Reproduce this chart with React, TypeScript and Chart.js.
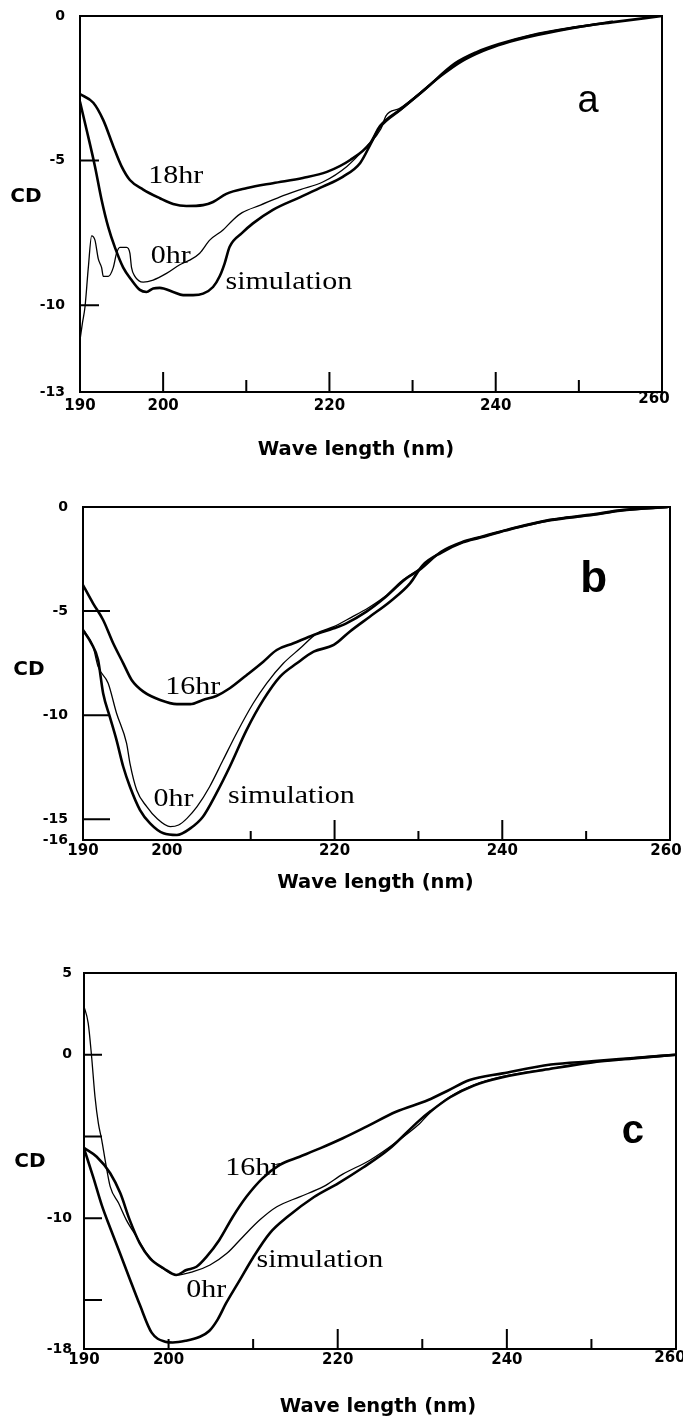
import React, { useEffect, useRef } from "react";
import { Chart, registerables } from "chart.js";

Chart.register(...registerables);

const SANS = "'DejaVu Sans', 'Liberation Sans', Arial, sans-serif";
const LETTER_SANS = "'Liberation Sans', Arial, sans-serif";
const SERIF = "'Liberation Serif', 'Times New Roman', serif";

// ---------- shared ----------
const xTickValues = [190, 200, 220, 240, 260];
const xAxisTitle = "Wave length (nm)";
const yAxisTitle = "CD";
const curveNames = ["18hr", "0hr", "simulation"];
const curveNamesBC = ["16hr", "0hr", "simulation"];

// ---------- panel a ----------
const aYTicks = [0, -5, -10, -13];
const aYMarks = [-5, -10];
const aXMajor = [200, 220, 240];
const aXMinor = [210, 230, 250];

const aWave18 = [190, 191.6, 192.8, 194.0, 195.0, 196.0, 197.6, 199.6, 201.2, 202.8, 204.8, 206.0, 207.6, 210.1, 213.2, 216.8, 219.7, 222.5, 224.9, 226.1, 228.7, 231.4, 235.1, 237.7, 240.4, 244.1, 249.4, 253.9, 260];
const aCD18 = [-2.7, -3.0, -3.6, -4.5, -5.2, -5.67, -6.0, -6.3, -6.5, -6.57, -6.54, -6.43, -6.15, -5.95, -5.78, -5.6, -5.39, -4.98, -4.4, -3.8, -3.2, -2.56, -1.64, -1.25, -0.97, -0.68, -0.4, -0.22, 0];

const aWave0 = [190.05, 190.3, 190.6, 191.0, 191.4, 191.8, 192.2, 192.6, 192.8, 193.4, 194.0, 194.4, 194.8, 195.6, 196.0, 196.2, 196.6, 197.6, 198.8, 200.4, 202.0, 203.2, 204.4, 205.6, 207.2, 208.4, 209.5, 211.7, 214.0, 216.5, 219.2, 222.1, 224.5, 226.2, 226.8, 228.4, 230.5, 233.0, 235.5, 238.0, 240.5, 244.0, 249.0, 254.0];
const aCD0 = [-11.1, -10.6, -10.06, -8.7, -7.6, -7.75, -8.4, -8.7, -9.0, -9.0, -8.7, -8.2, -8.0, -8.0, -8.2, -8.7, -9.0, -9.2, -9.13, -8.9, -8.6, -8.44, -8.2, -7.75, -7.4, -7.05, -6.8, -6.54, -6.26, -6.0, -5.74, -5.2, -4.5, -3.9, -3.45, -3.2, -2.75, -2.15, -1.6, -1.25, -0.97, -0.68, -0.4, -0.22];

const aWaveSim = [190, 190.8, 191.8, 192.6, 193.4, 194.2, 195.2, 196.2, 197.2, 198.0, 198.8, 199.6, 201.2, 202.4, 203.6, 204.8, 206.0, 206.8, 207.4, 208.0, 209.5, 210.8, 213.2, 216.5, 219.2, 221.6, 223.7, 225.2, 226.1, 228.5, 231.0, 233.5, 236.0, 238.5, 241.0, 245.0, 250.0, 254.0];
const aCDSim = [-2.97, -3.94, -5.2, -6.36, -7.3, -8.0, -8.7, -9.13, -9.47, -9.54, -9.42, -9.4, -9.54, -9.65, -9.65, -9.6, -9.37, -9.0, -8.55, -7.98, -7.5, -7.17, -6.7, -6.26, -5.9, -5.56, -5.08, -4.29, -3.84, -3.25, -2.65, -2.05, -1.55, -1.2, -0.95, -0.66, -0.38, -0.2];

const aLabelWave = [198.2, 198.5, 207.5];
const aLabelCD = [-5.77, -8.54, -9.44];

// ---------- panel b ----------
const bYTicks = [0, -5, -10, -15, -16];
const bYMarks = [-5, -10, -15];
const bXMajor = [220, 240];
const bXMinor = [210, 230, 250];

const bWave16 = [190.0, 191.2, 192.4, 193.6, 194.8, 195.8, 197.2, 199.2, 201.2, 202.8, 204.3, 205.9, 207.5, 209.5, 211.5, 213.1, 215.1, 217.5, 219.9, 221.4, 223.8, 225.9, 228.5, 230.1, 232.7, 235.3, 237.3, 240.5, 245.7, 250.4, 254.5, 259.7];
const bCD16 = [-3.75, -4.63, -5.43, -6.55, -7.51, -8.31, -8.87, -9.27, -9.47, -9.47, -9.27, -9.08, -8.71, -8.08, -7.43, -6.87, -6.55, -6.15, -5.83, -5.59, -5.03, -4.39, -3.45, -3.03, -2.15, -1.67, -1.45, -1.1, -0.62, -0.38, -0.14, 0];

const bWave0 = [190.2, 191.2, 191.8, 193.0, 194.0, 195.2, 195.6, 196.4, 197.6, 198.8, 200.4, 201.4, 202.4, 203.6, 205.1, 206.7, 208.3, 210.3, 211.9, 213.9, 215.9, 217.9, 219.9, 222.0, 224.0, 226.0, 228.0, 230.0, 232.7, 235.3, 237.3, 240.5, 245.7, 250.4, 254.5, 259.7];
const bCD0 = [-5.99, -6.71, -7.67, -8.47, -9.91, -11.36, -12.32, -13.6, -14.4, -14.96, -15.36, -15.28, -14.96, -14.4, -13.44, -12.16, -10.88, -9.43, -8.47, -7.51, -6.79, -6.07, -5.75, -5.3, -4.85, -4.3, -3.55, -3.0, -2.15, -1.67, -1.45, -1.1, -0.62, -0.38, -0.14, 0];

const bWaveSim = [190.0, 191.0, 191.8, 192.4, 193.2, 194.0, 194.8, 195.6, 196.8, 198.0, 199.6, 201.2, 202.8, 204.3, 205.9, 207.5, 209.5, 211.5, 213.5, 215.5, 217.5, 219.9, 221.8, 224.2, 226.6, 229.0, 230.5, 232.7, 235.3, 237.3, 240.5, 245.7, 250.4, 254.5, 259.7];
const bCDSim = [-5.91, -6.55, -7.35, -8.95, -10.08, -11.2, -12.48, -13.44, -14.56, -15.2, -15.68, -15.76, -15.44, -14.88, -13.76, -12.48, -10.72, -9.27, -8.15, -7.51, -6.95, -6.63, -5.99, -5.27, -4.55, -3.67, -2.8, -2.2, -1.7, -1.48, -1.12, -0.64, -0.4, -0.16, 0];

const bLabelWave = [199.8, 198.4, 207.3];
const bLabelCD = [-8.99, -14.37, -14.22];

// ---------- panel c ----------
const cYTicks = [5, 0, -10, -18];
const cYMarks = [0, -5, -10, -15];
const cXMajor = [220, 240];
const cXMinor = [200, 210, 230, 250];

const cWave16 = [190.0, 191.5, 193.1, 194.3, 195.4, 196.6, 197.8, 199.4, 200.9, 202.1, 203.3, 204.5, 206.0, 207.6, 209.2, 211.1, 213.1, 215.5, 217.9, 220.6, 223.4, 226.9, 230.7, 233.0, 235.6, 239.5, 245.2, 250.0, 255.0, 260.0];
const cCD16 = [-5.7, -6.24, -7.25, -8.48, -10.1, -11.54, -12.45, -13.06, -13.47, -13.17, -12.97, -12.35, -11.33, -9.91, -8.69, -7.56, -6.75, -6.24, -5.73, -5.11, -4.4, -3.49, -2.77, -2.2, -1.55, -1.14, -0.6, -0.4, -0.2, 0];

const cWave0 = [189.95, 190.5, 190.9, 191.3, 191.7, 192.1, 192.5, 193.1, 194.1, 195.0, 196.2, 197.4, 199.0, 201.0, 202.9, 204.9, 206.9, 208.8, 210.8, 212.8, 215.5, 218.3, 220.6, 223.8, 226.9, 229.7, 231.0, 233.3, 236.1, 239.5, 245.2, 249.9, 255.0, 260.0];
const cCD0 = [3.04, 1.92, -0.12, -2.57, -4.2, -5.22, -6.44, -8.07, -9.09, -10.1, -11.13, -12.15, -12.97, -13.47, -13.27, -12.86, -12.15, -11.13, -10.1, -9.3, -8.69, -8.07, -7.3, -6.45, -5.35, -4.2, -3.5, -2.55, -1.85, -1.33, -0.84, -0.47, -0.21, 0];

const cWaveSim = [190.0, 191.1, 192.1, 193.1, 194.3, 195.4, 196.6, 198.0, 199.6, 200.5, 202.0, 203.7, 204.8, 205.8, 206.8, 208.4, 210.0, 212.0, 214.1, 217.2, 220.1, 223.0, 226.0, 229.7, 231.0, 233.3, 236.1, 239.5, 245.2, 249.9, 255.0, 260.0];
const cCDSim = [-5.73, -7.5, -9.2, -10.6, -12.2, -13.7, -15.3, -17.0, -17.55, -17.6, -17.5, -17.25, -16.9, -16.2, -15.2, -13.8, -12.4, -10.9, -9.9, -8.7, -7.85, -6.9, -5.8, -4.0, -3.45, -2.6, -1.88, -1.38, -0.86, -0.48, -0.22, 0];

const cLabelWave = [206.7, 202.1, 210.4];
const cLabelCD = [-7.36, -14.82, -12.98];

// ---------- layout / style specs ----------
type Series = { wave: number[]; cd: number[]; width: number };
type Spec = {
  top: number; height: number; left: number; right: number; areaTop: number; areaBottom: number;
  yMin: number; yMax: number; yTicks: number[]; yLabelPad: number;
  yMarks: number[]; yMarkLen: number;
  xMajor: number[]; xMinor: number[]; xMajorLen: number; xMinorLen: number;
  xLabelDy: number; lastDx: number; lastDy: number;
  titleDx: number; titleDy: number; cdValue: number;
  series: Series[];
  labels: string[]; labelWave: number[]; labelCD: number[];
  letter: string; letterWave: number; letterCD: number; letterFont: string;
};

const THICK = 2.6;
const THIN = 1.3;

const specs: Spec[] = [
  {
    top: 0, height: 470, left: 80, right: 662, areaTop: 16, areaBottom: 392,
    yMin: -13, yMax: 0, yTicks: aYTicks, yLabelPad: 15, yMarks: aYMarks, yMarkLen: 19,
    xMajor: aXMajor, xMinor: aXMinor, xMajorLen: 20, xMinorLen: 12,
    xLabelDy: 14, lastDx: -8, lastDy: -7, titleDx: -15, titleDy: 58, cdValue: -6.26,
    series: [
      { wave: aWave18, cd: aCD18, width: THICK },
      { wave: aWave0, cd: aCD0, width: THIN },
      { wave: aWaveSim, cd: aCDSim, width: THICK },
    ],
    labels: curveNames, labelWave: aLabelWave, labelCD: aLabelCD,
    letter: "a", letterWave: 251.1, letterCD: -3.32, letterFont: `38px ${LETTER_SANS}`,
  },
  {
    top: 470, height: 450, left: 83, right: 670, areaTop: 37, areaBottom: 370,
    yMin: -16, yMax: 0, yTicks: bYTicks, yLabelPad: 15, yMarks: bYMarks, yMarkLen: 27,
    xMajor: bXMajor, xMinor: bXMinor, xMajorLen: 20, xMinorLen: 9,
    xLabelDy: 11, lastDx: -4, lastDy: 0, titleDx: -1, titleDy: 43, cdValue: -7.83,
    series: [
      { wave: bWave16, cd: bCD16, width: THICK },
      { wave: bWave0, cd: bCD0, width: THIN },
      { wave: bWaveSim, cd: bCDSim, width: THICK },
    ],
    labels: curveNamesBC, labelWave: bLabelWave, labelCD: bLabelCD,
    letter: "b", letterWave: 250.9, letterCD: -4.08, letterFont: `bold 44px ${LETTER_SANS}`,
  },
  {
    top: 920, height: 498, left: 84, right: 676, areaTop: 53, areaBottom: 429,
    yMin: -18, yMax: 5, yTicks: cYTicks, yLabelPad: 12, yMarks: cYMarks, yMarkLen: 18,
    xMajor: cXMajor, xMinor: cXMinor, xMajorLen: 20, xMinorLen: 10,
    xLabelDy: 11, lastDx: -6, lastDy: -2, titleDx: -2, titleDy: 58, cdValue: -6.57,
    series: [
      { wave: cWave16, cd: cCD16, width: THICK },
      { wave: cWave0, cd: cCD0, width: THIN },
      { wave: cWaveSim, cd: cCDSim, width: THICK },
    ],
    labels: curveNamesBC, labelWave: cLabelWave, labelCD: cLabelCD,
    letter: "c", letterWave: 254.9, letterCD: -5.4, letterFont: `bold 40px ${LETTER_SANS}`,
  },
];

function drawStretched(ctx: CanvasRenderingContext2D, text: string, x: number, y: number, font: string, sx: number, align: CanvasTextAlign, baseline: CanvasTextBaseline) {
  ctx.save();
  ctx.font = font;
  ctx.fillStyle = "#000";
  ctx.textAlign = align;
  ctx.textBaseline = baseline;
  ctx.translate(x, y);
  ctx.scale(sx, 1);
  ctx.fillText(text, 0, 0);
  ctx.restore();
}

function decorPlugin(s: Spec) {
  return {
    id: "decor",
    beforeDatasetsDraw(chart: any) {
      const { ctx, chartArea: a, scales } = chart;
      const xs = scales.x;
      const ys = scales.y;
      ctx.save();
      ctx.strokeStyle = "#000";
      ctx.lineWidth = 2;
      ctx.strokeRect(a.left, a.top, a.right - a.left, a.bottom - a.top);
      ctx.beginPath();
      s.yMarks.forEach((v) => {
        const py = ys.getPixelForValue(v);
        ctx.moveTo(a.left, py);
        ctx.lineTo(a.left + s.yMarkLen, py);
      });
      s.xMajor.forEach((v) => {
        const px = xs.getPixelForValue(v);
        ctx.moveTo(px, a.bottom);
        ctx.lineTo(px, a.bottom - s.xMajorLen);
      });
      s.xMinor.forEach((v) => {
        const px = xs.getPixelForValue(v);
        ctx.moveTo(px, a.bottom);
        ctx.lineTo(px, a.bottom - s.xMinorLen);
      });
      ctx.stroke();
      ctx.restore();
    },
    afterDatasetsDraw(chart: any) {
      const { ctx, chartArea: a, scales } = chart;
      const xs = scales.x;
      const ys = scales.y;
      // x tick labels
      xTickValues.forEach((v, i) => {
        let px = xs.getPixelForValue(v);
        let py = a.bottom + s.xLabelDy;
        if (i === xTickValues.length - 1) {
          px += s.lastDx;
          py += s.lastDy;
        }
        drawStretched(ctx, String(v), px, py, `bold 15px ${SANS}`, 1, "center", "middle");
      });
      // axis titles
      drawStretched(ctx, xAxisTitle, (a.left + a.right) / 2 + s.titleDx, a.bottom + s.titleDy, `bold 19.5px ${SANS}`, 1, "center", "middle");
      drawStretched(ctx, yAxisTitle, a.left - 54, ys.getPixelForValue(s.cdValue), `bold 20px ${SANS}`, 1, "center", "middle");
      // curve labels
      s.labels.forEach((t, i) => {
        drawStretched(ctx, t, xs.getPixelForValue(s.labelWave[i]), ys.getPixelForValue(s.labelCD[i]), `25px ${SERIF}`, 1.2, "left", "alphabetic");
      });
      // panel letter
      drawStretched(ctx, s.letter, xs.getPixelForValue(s.letterWave), ys.getPixelForValue(s.letterCD), s.letterFont, 1, "center", "alphabetic");
    },
  };
}

function Panel({ s }: { s: Spec }) {
  const ref = useRef<HTMLCanvasElement | null>(null);
  useEffect(() => {
    if (!ref.current) return;
    const chart = new Chart(ref.current, {
      type: "line",
      data: {
        datasets: s.series.map((se) => ({
          data: se.wave.map((w, j) => ({ x: w, y: se.cd[j] })),
          borderColor: "#000",
          backgroundColor: "#000",
          borderWidth: se.width,
          pointRadius: 0,
          fill: false,
          cubicInterpolationMode: "monotone",
          borderJoinStyle: "round",
          borderCapStyle: "round",
        })),
      },
      options: {
        animation: false,
        responsive: false,
        maintainAspectRatio: false,
        events: [],
        layout: { padding: { top: s.areaTop, right: 683 - s.right, left: 0, bottom: 0 } },
        plugins: { legend: { display: false }, tooltip: { enabled: false } },
        scales: {
          x: {
            type: "linear",
            min: 190,
            max: 260,
            grid: { display: false, drawTicks: false },
            border: { display: false },
            ticks: { display: false },
            afterFit: (sc: any) => {
              sc.height = s.height - s.areaBottom;
              sc.paddingLeft = 0;
              sc.paddingRight = 0;
            },
          },
          y: {
            type: "linear",
            min: s.yMin,
            max: s.yMax,
            grid: { display: false, drawTicks: false },
            border: { display: false },
            ticks: {
              color: "#000",
              font: { family: SANS, weight: "bold", size: 14 },
              padding: s.yLabelPad,
              callback: (v: any) => String(v),
            },
            afterBuildTicks: (sc: any) => {
              sc.ticks = s.yTicks.map((v) => ({ value: v }));
            },
            afterFit: (sc: any) => {
              sc.width = s.left;
              sc.paddingTop = 0;
              sc.paddingBottom = 0;
            },
          },
        },
      } as any,
      plugins: [decorPlugin(s)],
    } as any);
    return () => chart.destroy();
  }, [s]);
  return (
    <canvas
      ref={ref}
      width={683}
      height={s.height}
      style={{ position: "absolute", left: 0, top: s.top, width: 683, height: s.height }}
    />
  );
}

export default function App() {
  return (
    <div style={{ position: "absolute", left: 0, top: 0, width: 683, height: 1418, background: "#fff" }}>
      {specs.map((s, i) => (
        <Panel key={i} s={s} />
      ))}
    </div>
  );
}
